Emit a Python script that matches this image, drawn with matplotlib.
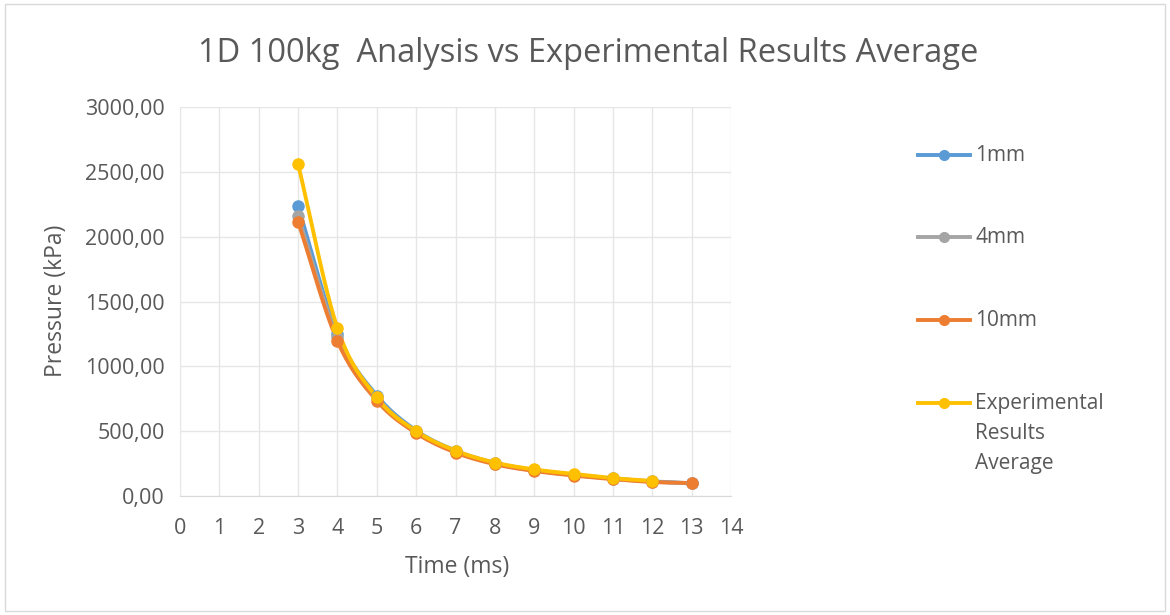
import numpy as np
import matplotlib
matplotlib.use("Agg")
import matplotlib.pyplot as plt
from matplotlib.lines import Line2D
from matplotlib.ticker import FuncFormatter, MultipleLocator

plt.rcParams['font.family'] = ['Open Sans', 'DejaVu Sans']

time_ms = [3, 4, 5, 6, 7, 8, 9, 10, 11, 12, 13]
p_1mm = [2235, 1250, 775, 505, 350, 255, 200, 165, 135, 113, 98]
p_4mm = [2160, 1225, 760, 495, 343, 250, 197, 162, 133, 111, 97]
p_10mm = [2115, 1195, 735, 485, 335, 245, 193, 158, 130, 108, 100]
time_exp = [3, 4, 5, 6, 7, 8, 9, 10, 11, 12]
p_exp = [2560, 1295, 760, 500, 350, 258, 205, 170, 138, 116]

series = [
    ("1mm", time_ms, p_1mm, "#5B9BD5"),
    ("4mm", time_ms, p_4mm, "#A5A5A5"),
    ("10mm", time_ms, p_10mm, "#ED7D31"),
    ("Experimental\nResults\nAverage", time_exp, p_exp, "#FFC000"),
]

TXT = "#595959"


def smooth(x, y, n=20):
    # Catmull-Rom style smoothing (like Excel's smoothed lines)
    x = np.asarray(x, float)
    y = np.asarray(y, float)
    px = np.concatenate([[2 * x[0] - x[1]], x, [2 * x[-1] - x[-2]]])
    py = np.concatenate([[2 * y[0] - y[1]], y, [2 * y[-1] - y[-2]]])
    xs, ys = [], []
    t = np.linspace(0, 1, n)
    for i in range(1, len(px) - 2):
        p0, p1, p2, p3 = (np.array([px[j], py[j]]) for j in range(i - 1, i + 3))
        c1 = p1 + (p2 - p0) / 6
        c2 = p2 - (p3 - p1) / 6
        b = ((1 - t) ** 3)[:, None] * p1 + (3 * (1 - t) ** 2 * t)[:, None] * c1 + \
            (3 * (1 - t) * t ** 2)[:, None] * c2 + (t ** 3)[:, None] * p2
        xs.append(b[:, 0])
        ys.append(b[:, 1])
    return np.concatenate(xs), np.concatenate(ys)


W, H = 1170, 615
fig = plt.figure(figsize=(W / 100, H / 100), dpi=100)
fig.patches.append(plt.Rectangle((0.004, 0.006), 0.992, 0.988, transform=fig.transFigure,
                                 fill=False, edgecolor="#D9D9D9", linewidth=1))
ax = fig.add_axes([180 / W, 1 - 496 / H, (731 - 180) / W, (496 - 107) / H])

for label, xs, ys, c in series:
    sx, sy = smooth(xs, ys)
    ax.plot(sx, sy, color=c, linewidth=2.8, solid_capstyle='round', zorder=3)
    ax.plot(xs, ys, linestyle='none', marker='o', markersize=8, color=c, zorder=4)

ax.set_xlim(0, 14)
ax.set_ylim(0, 3000)
ax.xaxis.set_major_locator(MultipleLocator(1))
ax.yaxis.set_major_locator(MultipleLocator(500))
ax.yaxis.set_major_formatter(FuncFormatter(lambda v, p: f"{v:.2f}".replace('.', ',')))
ax.grid(True, color="#E6E6E6", linewidth=1)
ax.set_axisbelow(True)
for s in ['top', 'right', 'left']:
    ax.spines[s].set_visible(False)
ax.spines['bottom'].set_color("#D9D9D9")
ax.tick_params(length=0, labelsize=15.5, colors=TXT)
ax.tick_params(axis='y', pad=11)
ax.tick_params(axis='x', pad=16)

fig.text(457 / W, 1 - 567 / H, "Time (ms)", ha='center', va='center', fontsize=16.5, color=TXT)
fig.text(56 / W, 1 - 301 / H, "Pressure (kPa)", ha='center', va='center', rotation=90,
         fontsize=16.5, color=TXT)
fig.text(588 / W, 1 - 53 / H, "1D 100kg  Analysis vs Experimental Results Average",
         ha='center', va='center', fontsize=23.5, color=TXT)

# legend
leg_y = [155, 237, 320, 403]
for (label, xs, ys, c), yy in zip(series, leg_y):
    yf = 1 - yy / H
    fig.lines.append(Line2D([918 / W, 970 / W], [yf, yf], transform=fig.transFigure,
                            color=c, linewidth=2.8))
    fig.lines.append(Line2D([944 / W], [yf], transform=fig.transFigure, color=c,
                            marker='o', markersize=7))
    fig.text(975 / W, 1 - (yy - 10) / H, label, ha='left', va='top', fontsize=15,
             color=TXT, linespacing=1.55)

fig.savefig("out.png", dpi=100)
